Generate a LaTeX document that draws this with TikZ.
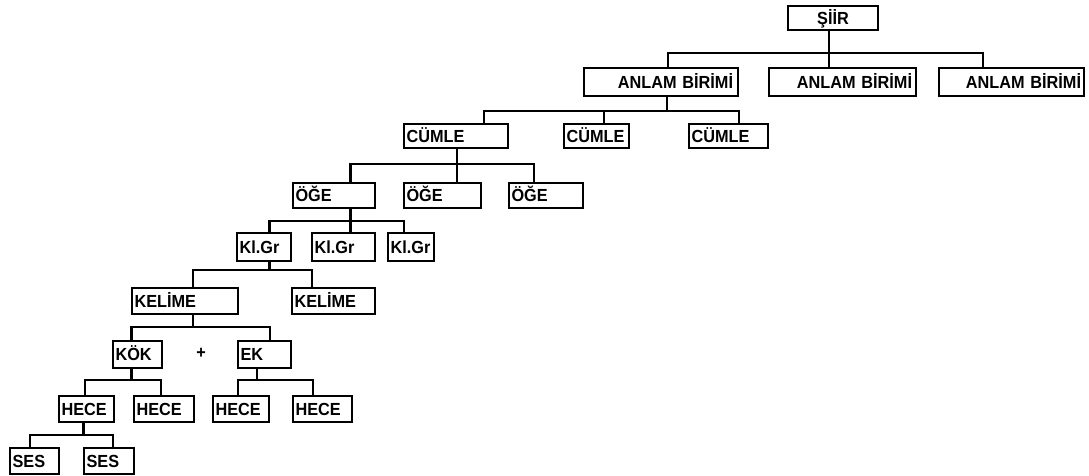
\documentclass[tikz,border=0pt]{standalone}
\usepackage{fontspec}
\setmainfont{Liberation Sans}[FakeStretch=0.93]
\begin{document}
\begin{tikzpicture}[x=1pt,y=-1pt,
  bx/.style={draw, line width=2.1pt, inner xsep=2.5pt, inner ysep=0pt, anchor=north west,
    align=left, text height=12.5pt, text depth=0pt, font=\fontsize{17.5}{20}\selectfont\bfseries},
  ln/.style={line width=2.1pt}]
\useasboundingbox (0,0) rectangle (1089,476);
% nodes (top-left x, top-left y)
\node[bx, align=center, text width=85pt, minimum height=24pt] (siir) at (787,5) {ŞİİR};
\node[bx, align=right, inner xsep=5pt, text width=144pt, minimum height=28pt] (a1) at (583,67) {ANLAM BİRİMİ};
\node[bx, align=right, inner xsep=4pt, text width=139pt, minimum height=28pt] (a2) at (768,67) {ANLAM BİRİMİ};
\node[bx, align=right, inner xsep=3pt, text width=139pt, minimum height=28pt] (a3) at (938,67) {ANLAM BİRİMİ};
\node[bx, text width=99pt, minimum height=24pt] (c1) at (403,123) {CÜMLE};
\node[bx, text width=60pt, minimum height=24pt] (c2) at (563,123) {CÜMLE};
\node[bx, text width=74pt, minimum height=24pt] (c3) at (688,123) {CÜMLE};
\node[bx, text width=77pt, minimum height=25pt] (o1) at (292,182) {ÖĞE};
\node[bx, text width=72pt, minimum height=25pt] (o2) at (403,182) {ÖĞE};
\node[bx, text width=69pt, minimum height=25pt] (o3) at (508,182) {ÖĞE};
\node[bx, text width=49pt, minimum height=28pt] (k1) at (236,232) {Kl.Gr};
\node[bx, text width=58pt, minimum height=28pt] (k2) at (311,232) {Kl.Gr};
\node[bx, text width=41pt, minimum height=28pt] (k3) at (387,232) {Kl.Gr};
\node[bx, text width=101pt, minimum height=26pt] (w1) at (131,287) {KELİME};
\node[bx, text width=78pt, minimum height=26pt] (w2) at (291,287) {KELİME};
\node[bx, text width=44pt, minimum height=27pt] (kok) at (112,340) {KÖK};
\node[bx, text width=48pt, minimum height=27pt] (ek) at (237,340) {EK};
\node[font=\fontsize{17.5}{20}\selectfont\bfseries] (plus) at (201,353) {+};
\node[bx, text width=50pt, minimum height=26pt] (h1) at (58,395) {HECE};
\node[bx, text width=55pt, minimum height=26pt] (h2) at (133,395) {HECE};
\node[bx, text width=51pt, minimum height=26pt] (h3) at (212,395) {HECE};
\node[bx, text width=54pt, minimum height=26pt] (h4) at (292,395) {HECE};
\node[bx, text width=44pt, minimum height=26pt] (s1) at (9,447) {SES};
\node[bx, text width=45pt, minimum height=26pt] (s2) at (83,447) {SES};
% bus junctions
\coordinate (b1) at (829,53);
\coordinate (b2) at (667,111);
\coordinate (b3) at (457,164);
\coordinate (b4) at (350.5,221);
\coordinate (b5) at (269.5,270);
\coordinate (b6) at (193,327);
\coordinate (b7) at (131.5,380);
\coordinate (b8) at (257,380);
\coordinate (b9) at (83.5,435);
% connectors
\draw[ln] (siir.south -| b1) -- (a2.north -| b1);
\draw[ln] ([xshift=7pt]a1.north) |- (b1) -| ([xshift=-28.5pt]a3.north);
\draw[ln] (a1.south -| b2) -- (b2);
\draw[ln] ([xshift=28pt]c1.north) |- (b2) -| ([xshift=10.5pt]c3.north);
\draw[ln] ([xshift=7.5pt]c2.north) -- ([xshift=7.5pt]c2.north |- b2);
\draw[ln] (c1.south -| b3) -- (o2.north -| b3);
\draw[ln] (o1.north -| b4) |- (b3) -| ([xshift=-12pt]o3.north);
\draw[ln] (o1.south -| b4) -- (k2.north -| b4);
\draw[ln] (k1.north -| b5) |- (b4) -| ([xshift=-7pt]k3.north);
\draw[ln] (k1.south -| b5) -- (b5);
\draw[ln] (w1.north -| b6) |- (b5) -| ([xshift=-21.5pt]w2.north);
\draw[ln] (w1.south -| b6) -- (b6);
\draw[ln] (kok.north -| b7) |- (b6) -| ([xshift=5.5pt]ek.north);
\draw[ln] (kok.south -| b7) -- (b7);
\draw[ln] ([xshift=-1.5pt]h1.north) |- (b7) -| ([xshift=-3pt]h2.north);
\draw[ln] (ek.south -| b8) -- (b8);
\draw[ln] ([xshift=-3pt]h3.north) |- (b8) -| ([xshift=-9.5pt]h4.north);
\draw[ln] (h1.south -| b9) -- (b9);
\draw[ln] ([xshift=-4.5pt]s1.north) |- (b9) -| ([xshift=4pt]s2.north);
\end{tikzpicture}
\end{document}
